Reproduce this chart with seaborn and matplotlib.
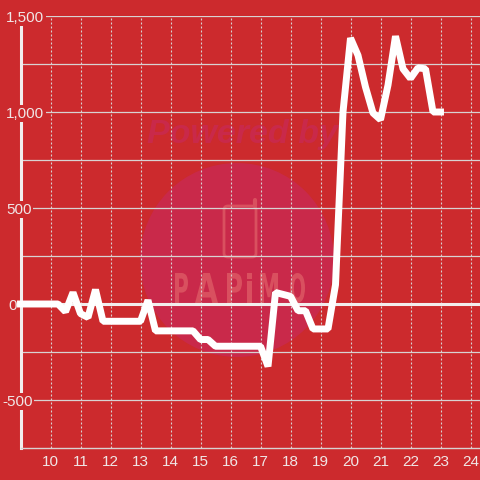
import matplotlib
matplotlib.use("Agg")
import matplotlib.pyplot as plt
from matplotlib.font_manager import FontProperties
from matplotlib.patches import Ellipse, FancyBboxPatch, PathPatch
from matplotlib.textpath import TextPath
from matplotlib.transforms import Affine2D, blended_transform_factory
import pandas as pd
import seaborn as sns

# Constants
OUTPUT_FILE = "out.png"
BG_COLOR = "#cc2a2d"
WATERMARK = "#c9294a"
WATERMARK_TEXT = "#d9505f"
TEXT_COLOR = "#f0e6e6"
GRID_COLOR = "#d8d2d2"

# Hours of the day, every 15 minutes
hours = [
    9.0, 9.25, 9.5, 9.75, 10.0, 10.25, 10.5, 10.75, 11.0, 11.25, 11.5, 11.75,
    12.0, 12.25, 12.5, 12.75, 13.0, 13.25, 13.5, 13.75, 14.0, 14.25, 14.5, 14.75,
    15.0, 15.25, 15.5, 15.75, 16.0, 16.25, 16.5, 16.75, 17.0, 17.25, 17.5, 17.75,
    18.0, 18.25, 18.5, 18.75, 19.0, 19.25, 19.5, 19.75, 20.0, 20.25, 20.5, 20.75,
    21.0, 21.25, 21.5, 21.75, 22.0, 22.25, 22.5, 22.75, 23.0,
]
values = [
    0, 0, 0, 0, 0, 0, -40, 60, -50, -70, 75, -90,
    -90, -90, -90, -90, -90, 20, -140, -140, -140, -140, -140, -140,
    -185, -185, -220, -220, -220, -220, -220, -220, -220, -325, 60, 50,
    40, -35, -35, -130, -130, -130, 100, 1000, 1385, 1295, 1130, 995,
    960, 1140, 1395, 1225, 1175, 1230, 1225, 1000, 1000,
]
x_ticks = list(range(10, 25))
y_labeled = [-500, 0, 500, 1000, 1500]
y_unlabeled = [-250, 250, 750, 1250]
y_tick_text = ["-500", "0", "500", "1,000", "1,500"]
y_label_left = [2, 8, 6, 6, 6]
logo_letters = ["P", "A", "P", "i", "M", "O"]
logo_spans = [(175, 188), (195, 218), (227, 242), (247, 252), (260, 278), (290, 305)]

plt.rcParams["font.family"] = ["Liberation Sans", "DejaVu Sans"]

fig = plt.figure(figsize=(4.8, 4.8), dpi=100, facecolor=BG_COLOR)
ax = fig.add_axes([20.5 / 480, 32 / 480, 459.5 / 480, 432 / 480])
ax.set_facecolor("none")
ax.set_xlim(9, 9 + 459.5 / 30)
ax.set_ylim(-750, 1500)


def fx(px):
    return px / 480


def fy(px):
    return 1 - px / 480


# Watermark behind the grid
fig.add_artist(Ellipse((fx(237), fy(260)), 194 / 480, 194 / 480, color=WATERMARK, lw=0, zorder=-5))
fig.text(fx(242), fy(135), "Powered by", color=WATERMARK, fontsize=24.5, fontweight="bold",
         fontstyle="italic", family="Liberation Sans", ha="center", va="center", zorder=-5)
fig.add_artist(FancyBboxPatch((fx(224), fy(257)), 32 / 480, 51 / 480,
                              boxstyle="round,pad=0,rounding_size=0.008",
                              fill=False, ec=WATERMARK_TEXT, lw=2, zorder=-5))
fig.add_artist(plt.Line2D([fx(255), fx(255)], [fy(206), fy(200)], color=WATERMARK_TEXT, lw=3,
                          solid_capstyle="round", zorder=-5))

# Logo letters stretched to their widths in pixels
logo_font = FontProperties(family="DejaVu Sans", weight="bold")
for letter, (left, right) in zip(logo_letters, logo_spans):
    path = TextPath((0, 0), letter, size=40, prop=logo_font)
    box = path.get_extents()
    to_px = (Affine2D().translate(-box.x0, -box.y0)
             .scale((right - left) / box.width, 30 / box.height)
             .translate(left, 480 - 303))
    fig.add_artist(PathPatch(path, transform=to_px, fc=WATERMARK_TEXT, lw=0, zorder=-5))

# Grid
ax.hlines(y_labeled + y_unlabeled, 9, ax.get_xlim()[1], color=GRID_COLOR, lw=0.9, zorder=1)
ax.vlines(x_ticks, -750, 1500, color=GRID_COLOR, lw=0.8, linestyles=(0, (1.8, 1.8)), zorder=1)
ax.axhline(0, color="#f2eded", lw=2.2, zorder=2)

# Line
df = pd.DataFrame({"hour": hours, "value": values})
sns.lineplot(data=df, x="hour", y="value", color="white", linewidth=5, ax=ax, zorder=5,
             clip_on=False, solid_capstyle="projecting", solid_joinstyle="bevel", errorbar=None)

for spine in ["top", "right"]:
    ax.spines[spine].set_visible(False)
ax.spines["bottom"].set_color(GRID_COLOR)
ax.spines["bottom"].set_linewidth(1)
ax.spines["left"].set_color("#f2eded")
ax.spines["left"].set_linewidth(2.2)
ax.set_xlabel("")
ax.set_ylabel("")
ax.set_xticks(x_ticks)
ax.set_xticklabels([str(t) for t in x_ticks])
ax.set_yticks([])
ax.tick_params(axis="x", length=0, pad=5, labelsize=11, labelcolor=TEXT_COLOR)

label_transform = blended_transform_factory(fig.transFigure, ax.transData)
for val, label, left in zip(y_labeled, y_tick_text, y_label_left):
    ax.text(fx(left), val, label, color=TEXT_COLOR, fontsize=11, ha="left", va="center_baseline",
            transform=label_transform, zorder=4, clip_on=False,
            bbox=dict(facecolor=BG_COLOR, edgecolor="none", pad=1.2))

fig.savefig(OUTPUT_FILE, dpi=100, facecolor=BG_COLOR)
